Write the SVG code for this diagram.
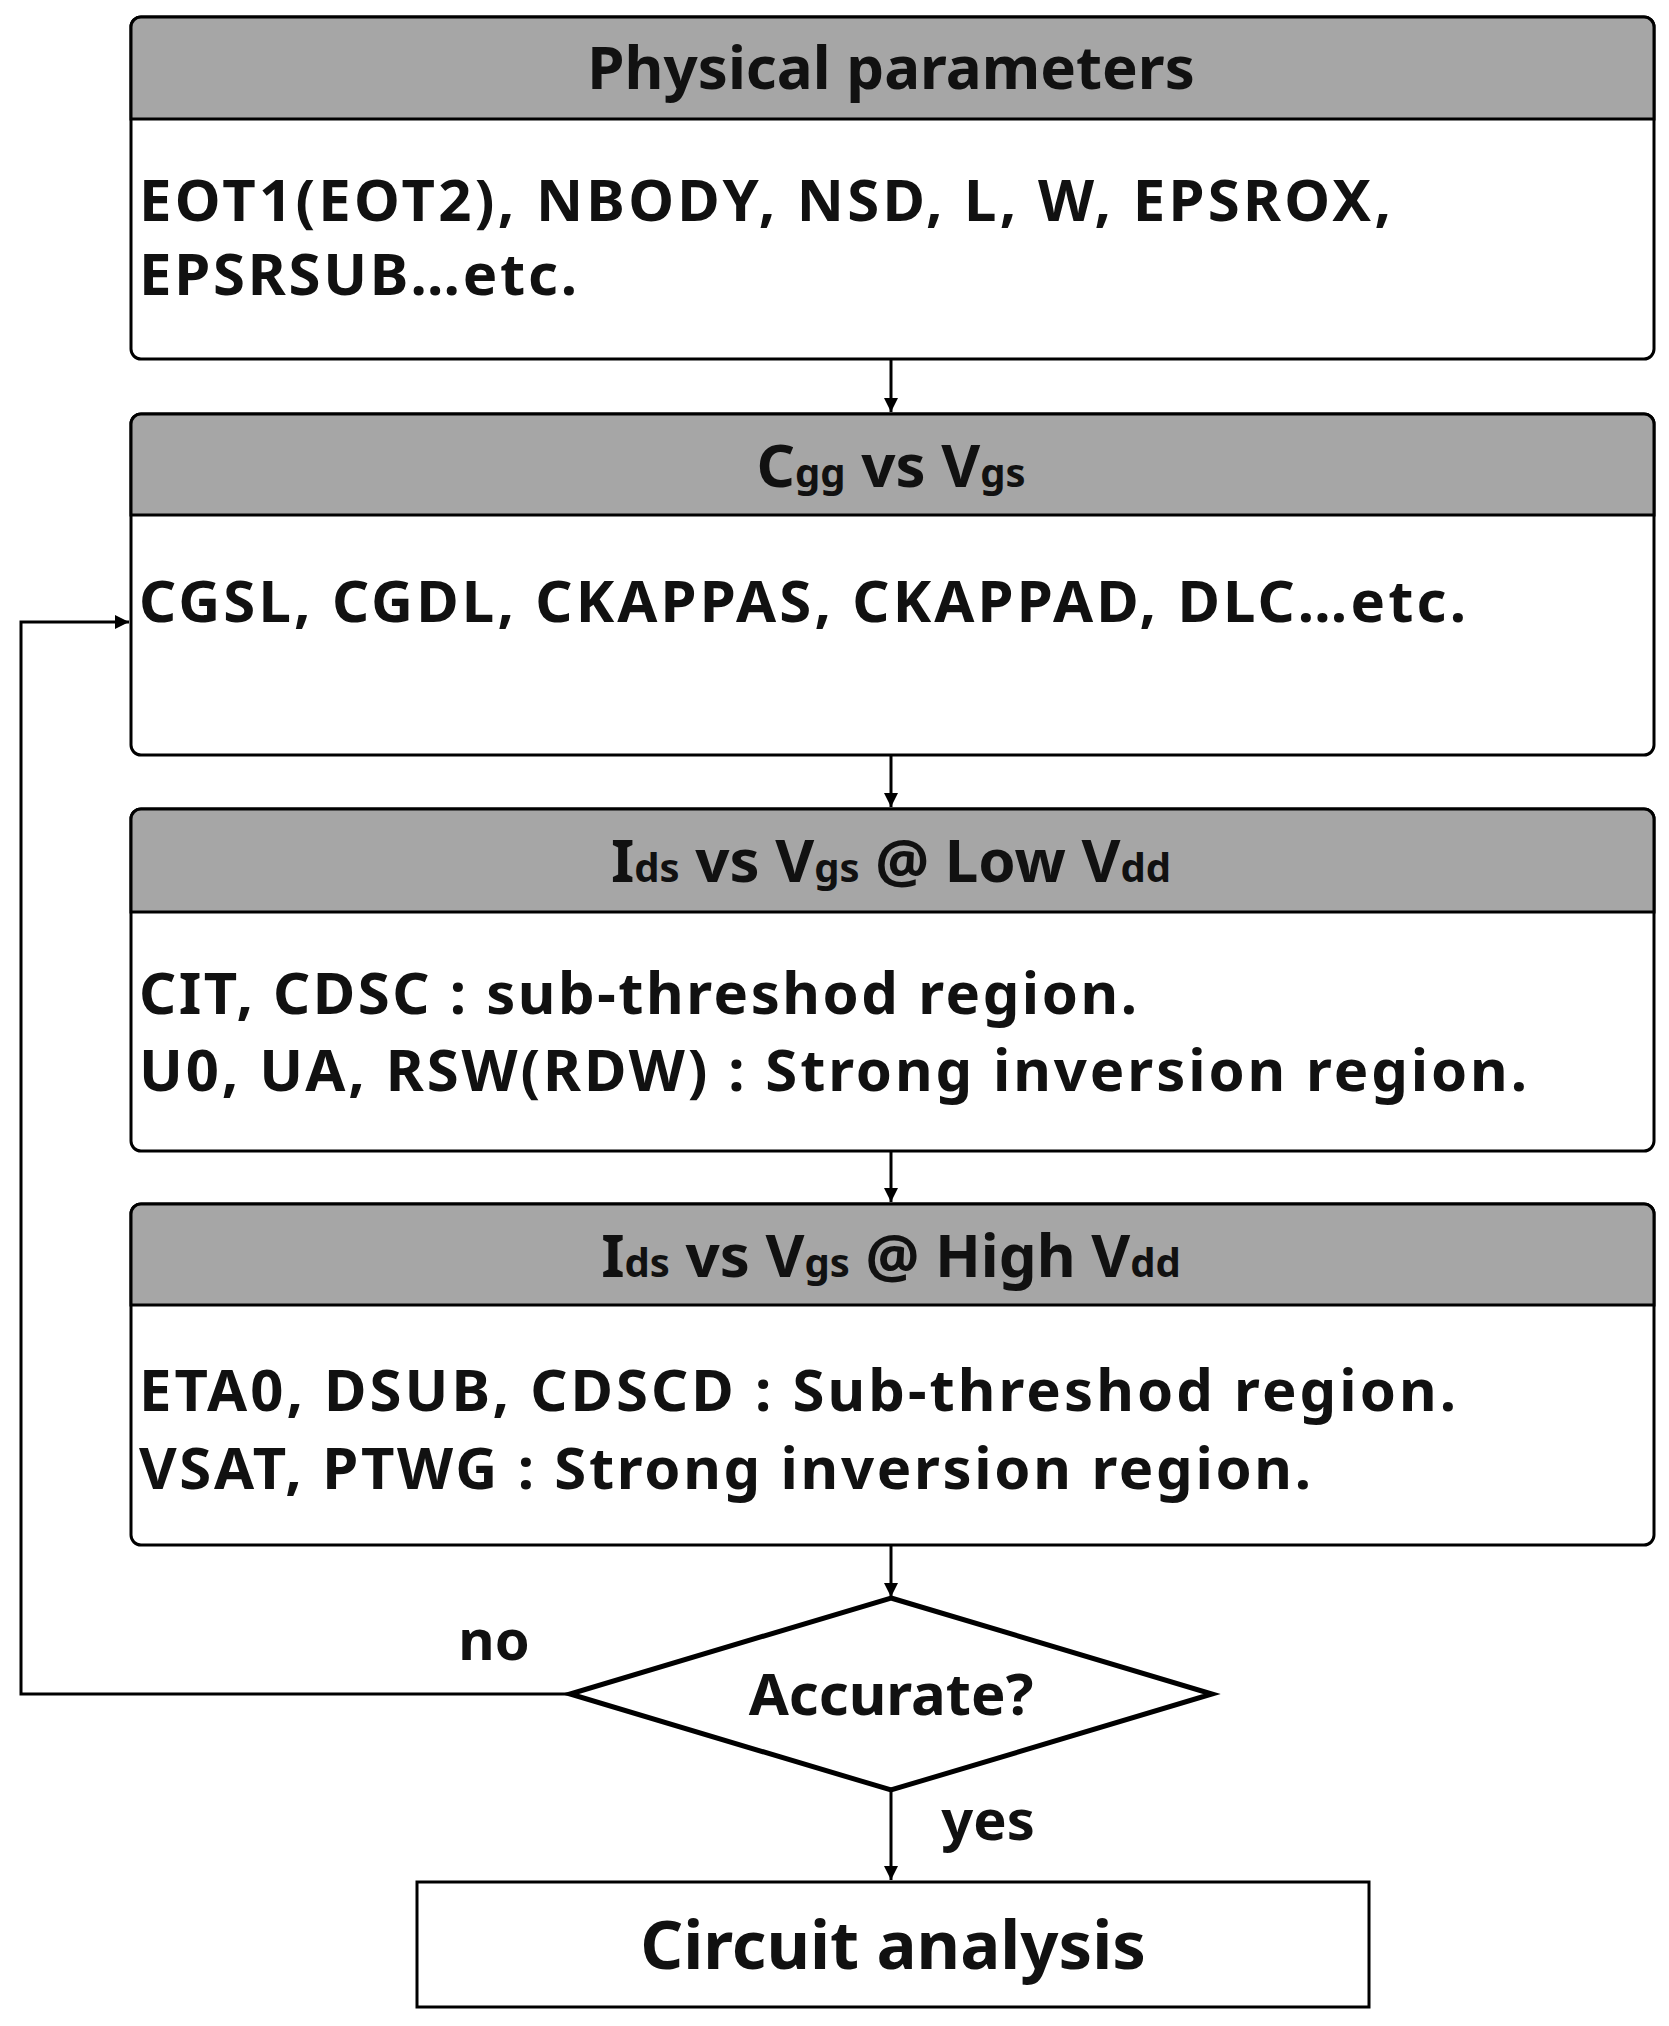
<svg xmlns="http://www.w3.org/2000/svg" width="1669" height="2026" viewBox="0 0 1669 2026">
<style>
.box{fill:#fff;stroke:#000;stroke-width:3}
.hdr{fill:#a6a6a6;stroke:#000;stroke-width:3}
text{font-family:"Noto Sans","DejaVu Sans",sans-serif;font-weight:bold;fill:#111}
.h{font-size:60px;text-anchor:middle}
.b{font-size:58px}
.sub{font-size:40px}
.c{stroke:#000;stroke-width:3;fill:none}
</style>
<defs><marker id="a" viewBox="0 0 10 10" refX="10" refY="5" markerWidth="14" markerHeight="14" markerUnits="userSpaceOnUse" orient="auto"><path d="M0,0L10,5L0,10z" fill="#000"/></marker></defs>
<g id="n1"><rect class="box" x="131" y="17" width="1523" height="342" rx="10"/><path class="hdr" d="M131,119V27a10,10 0 0 1 10,-10H1644a10,10 0 0 1 10,10V119z"/>
<text class="h" x="891" y="89">Physical parameters</text>
<text class="b" x="139" y="221" textLength="1252" lengthAdjust="spacing">EOT1(EOT2), NBODY, NSD, L, W, EPSROX,</text>
<text class="b" x="139" y="295" textLength="438" lengthAdjust="spacing">EPSRSUB…etc.</text></g>
<g id="n2"><rect class="box" x="131" y="414" width="1523" height="341" rx="10"/><path class="hdr" d="M131,515V424a10,10 0 0 1 10,-10H1644a10,10 0 0 1 10,10V515z"/>
<text class="h" x="891" y="487">C<tspan class="sub">gg</tspan> vs V<tspan class="sub">gs</tspan></text>
<text class="b" x="139" y="622" textLength="1327" lengthAdjust="spacing">CGSL, CGDL, CKAPPAS, CKAPPAD, DLC…etc.</text></g>
<g id="n3"><rect class="box" x="131" y="809" width="1523" height="342" rx="10"/><path class="hdr" d="M131,912V819a10,10 0 0 1 10,-10H1644a10,10 0 0 1 10,10V912z"/>
<text class="h" x="891" y="882">I<tspan class="sub">ds</tspan> vs V<tspan class="sub">gs</tspan> @ Low V<tspan class="sub">dd</tspan></text>
<text class="b" x="139" y="1014" textLength="998" lengthAdjust="spacing">CIT, CDSC : sub-threshod region.</text>
<text class="b" x="139" y="1091" textLength="1388" lengthAdjust="spacing">U0, UA, RSW(RDW) : Strong inversion region.</text></g>
<g id="n4"><rect class="box" x="131" y="1204" width="1523" height="341" rx="10"/><path class="hdr" d="M131,1305V1214a10,10 0 0 1 10,-10H1644a10,10 0 0 1 10,10V1305z"/>
<text class="h" x="891" y="1277">I<tspan class="sub">ds</tspan> vs V<tspan class="sub">gs</tspan> @ High V<tspan class="sub">dd</tspan></text>
<text class="b" x="139" y="1411" textLength="1317" lengthAdjust="spacing">ETA0, DSUB, CDSCD : Sub-threshod region.</text>
<text class="b" x="139" y="1489" textLength="1172" lengthAdjust="spacing">VSAT, PTWG : Strong inversion region.</text></g>
<g id="n5"><polygon points="891,1598 1212,1694 891,1790 570,1694" fill="#fff" stroke="#000" stroke-width="5"/>
<text class="h" x="891" y="1715" style="font-size:58px">Accurate?</text></g>
<g id="n6"><rect class="box" x="417" y="1882" width="952" height="125"/>
<text class="h" x="893" y="1969" style="font-size:67px">Circuit analysis</text></g>
<g id="connectors">
<line class="c" x1="891" y1="359" x2="891" y2="412" marker-end="url(#a)"/>
<line class="c" x1="891" y1="755" x2="891" y2="807" marker-end="url(#a)"/>
<line class="c" x1="891" y1="1151" x2="891" y2="1202" marker-end="url(#a)"/>
<line class="c" x1="891" y1="1545" x2="891" y2="1597" marker-end="url(#a)"/>
<line class="c" x1="891" y1="1790" x2="891" y2="1880" marker-end="url(#a)"/>
<polyline class="c" points="570,1694 21,1694 21,622 129,622" marker-end="url(#a)"/>
<text x="494" y="1660" style="font-size:56px;text-anchor:middle">no</text>
<text x="988" y="1840" style="font-size:56px;text-anchor:middle">yes</text>
</g>
</svg>
